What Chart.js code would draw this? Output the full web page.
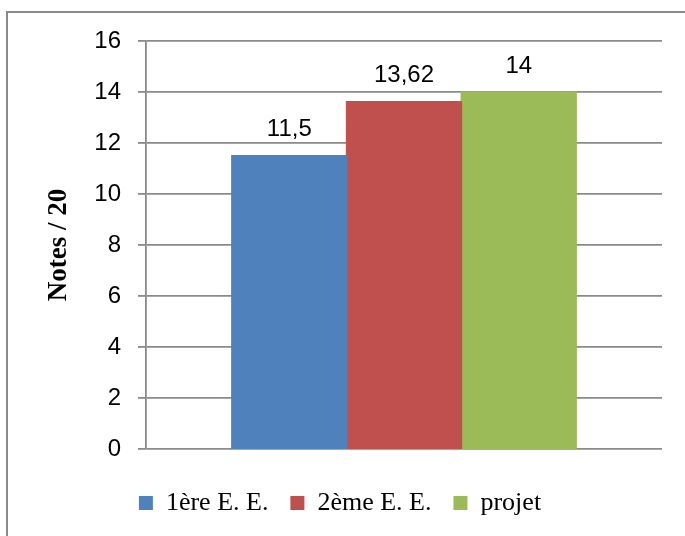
<!DOCTYPE html>
<html>
<head>
<meta charset="utf-8">
<script src="https://cdn.jsdelivr.net/npm/chart.js@4/dist/chart.umd.min.js"></script>
<style>
  html, body { margin: 0; padding: 0; background: #fff; overflow: hidden; }
  #wrap { position: relative; width: 685px; height: 536px; }
  #frame { position: absolute; left: 6px; top: 11px; width: 720px; height: 600px;
           border: 2px solid #8a8a8a; box-sizing: border-box; }
  canvas { position: absolute; left: 0; top: 0; }
</style>
</head>
<body>
<div id="wrap">
  <div id="frame"></div>
  <canvas id="c" width="685" height="536"></canvas>
</div>
<script>
// Notes obtenues (sur 20)
const categories = [''];
const seriesNames = ['1ère E. E.', '2ème E. E.', 'projet'];
const seriesValues = [[11.5], [13.62], [14]];
const seriesColors = ['#4F81BD', '#C0504D', '#9BBB59'];
const yTicks = [0, 2, 4, 6, 8, 10, 12, 14, 16];

const sansFont = '"Liberation Sans", Arial, sans-serif';
const serifFont = '"Liberation Serif", "Times New Roman", serif';
const fmt = v => String(v).replace('.', ',');

// Value labels above each bar
const valueLabels = {
  id: 'valueLabels',
  afterDatasetsDraw(chart) {
    const ctx = chart.ctx;
    ctx.save();
    ctx.font = '24px ' + sansFont;
    ctx.fillStyle = '#000';
    ctx.textAlign = 'center';
    ctx.textBaseline = 'middle';
    chart.data.datasets.forEach((ds, i) => {
      chart.getDatasetMeta(i).data.forEach((bar, j) => {
        ctx.fillText(fmt(ds.data[j]), bar.x, bar.y - 26);
      });
    });
    ctx.restore();
  }
};

new Chart(document.getElementById('c'), {
  type: 'bar',
  data: {
    labels: categories,
    datasets: seriesNames.map((name, i) => ({
      label: name,
      data: seriesValues[i],
      backgroundColor: seriesColors[i],
      borderWidth: 0,
      inflateAmount: 0.8,
      categoryPercentage: 0.667,
      barPercentage: 1.0
    }))
  },
  options: {
    responsive: false,
    animation: false,
    devicePixelRatio: 1,
    layout: { padding: { left: 18, right: 23, top: 41, bottom: 10 } },
    plugins: {
      tooltip: { enabled: false },
      legend: {
        position: 'bottom',
        labels: {
          boxWidth: 14,
          boxHeight: 14,
          padding: 22,
          color: '#000',
          font: { family: serifFont, size: 26 }
        }
      }
    },
    scales: {
      x: {
        display: true,
        grid: { display: false },
        border: { display: false },
        ticks: { display: false },
        afterFit(scale) { scale.height = 19; }
      },
      y: {
        min: 0,
        max: 16,
        afterBuildTicks(scale) { scale.ticks = yTicks.map(v => ({ value: v })); },
        afterFit(scale) { scale.width = 128; },
        grid: { color: '#8a8a8a', lineWidth: 1.8, tickLength: 8 },
        border: { display: true, color: '#8a8a8a', width: 1.8 },
        ticks: {
          padding: 17,
          color: '#000',
          font: { family: sansFont, size: 24 }
        },
        title: {
          display: true,
          text: 'Notes / 20',
          color: '#000',
          padding: { top: 25, bottom: 0 },
          font: { family: serifFont, size: 27, weight: 'bold' }
        }
      }
    }
  },
  plugins: [valueLabels]
});
</script>
</body>
</html>
